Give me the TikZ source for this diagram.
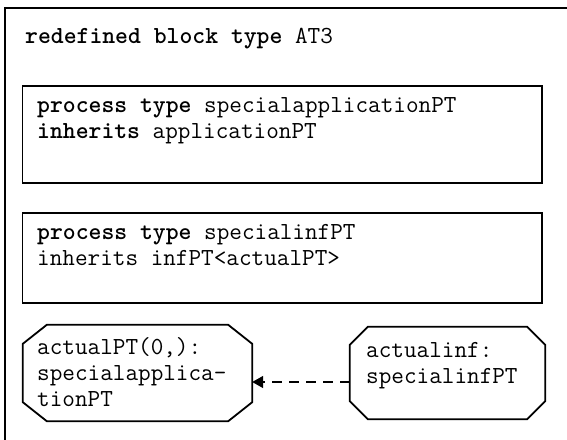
\documentclass[tikz,border=0pt]{standalone}
\usetikzlibrary{arrows.meta}
\tikzset{
  frame/.style={draw, line width=1.3pt},
  ptbox/.style={draw, line width=1.3pt, rectangle, inner sep=0pt},
  octbox/.style={rectangle, inner sep=0pt},
  octline/.style={line width=1.8pt, line join=miter},
  txt/.style={anchor=base west, inner sep=0pt, font=\ttfamily\fontsize{24.5}{26}\selectfont},
  dep/.style={line width=1.5pt, dash pattern=on 10pt off 7pt,
              -{Triangle[length=11pt,width=12pt]}}
}
% octagon drawn round the corners of a named node: #1 node, #2 x chamfer, #3 y chamfer
\newcommand\octround[3]{%
  \draw[octline] ([xshift=#2]#1.north west) -- ([xshift=-#2]#1.north east)
    -- ([yshift=-#3]#1.north east) -- ([yshift=#3]#1.south east)
    -- ([xshift=-#2]#1.south east) -- ([xshift=#2]#1.south west)
    -- ([yshift=#3]#1.south west) -- ([yshift=-#3]#1.north west) -- cycle;}
\begin{document}
\begin{tikzpicture}[x=1pt,y=-1pt]
\useasboundingbox (0,0) rectangle (567,439);

% enclosing block frame (continues past the right and lower edges)
\coordinate (fbot) at (5,450);
\coordinate (fcorner) at (5,8);
\coordinate (fright) at (580,8);
\draw[frame] (fbot) -- (fcorner) -- (fright);

\node[txt] (title) at (25,43) {\textbf{redefined block type} AT3};

% process type boxes
\node[ptbox, minimum width=519.5pt, minimum height=97pt] (pt1) at (282.25,134.5) {};
\node[txt] (pt1a) at (37,112) {\textbf{process type} specialapplicationPT};
\node[txt] (pt1b) at (37,138) {\textbf{inherits} applicationPT};

\node[ptbox, minimum width=519.5pt, minimum height=90pt] (pt2) at (282.25,258) {};
\node[txt] (pt2a) at (37,239) {\textbf{process type} specialinfPT};
\node[txt] (pt2b) at (37,265) {inherits infPT<actualPT>};

% process instance sets
\node[octbox, minimum width=229pt, minimum height=96pt] (oct1) at (137.5,373) {};
\octround{oct1}{24pt}{19pt}
\node[txt] (oct1a) at (37,354) {actualPT(0,):};
\node[txt] (oct1b) at (37,380) {specialapplica-};
\node[txt] (oct1c) at (37,406) {tionPT};

\node[octbox, minimum width=195pt, minimum height=92pt] (oct2) at (447.5,373) {};
\octround{oct2}{18pt}{18pt}
\node[txt] (oct2a) at (366,357) {actualinf:};
\node[txt] (oct2b) at (366,383) {specialinfPT};

\draw[dep] ([yshift=-9pt]oct2.west) -- ([yshift=-9pt]oct1.east);
\end{tikzpicture}
\end{document}
